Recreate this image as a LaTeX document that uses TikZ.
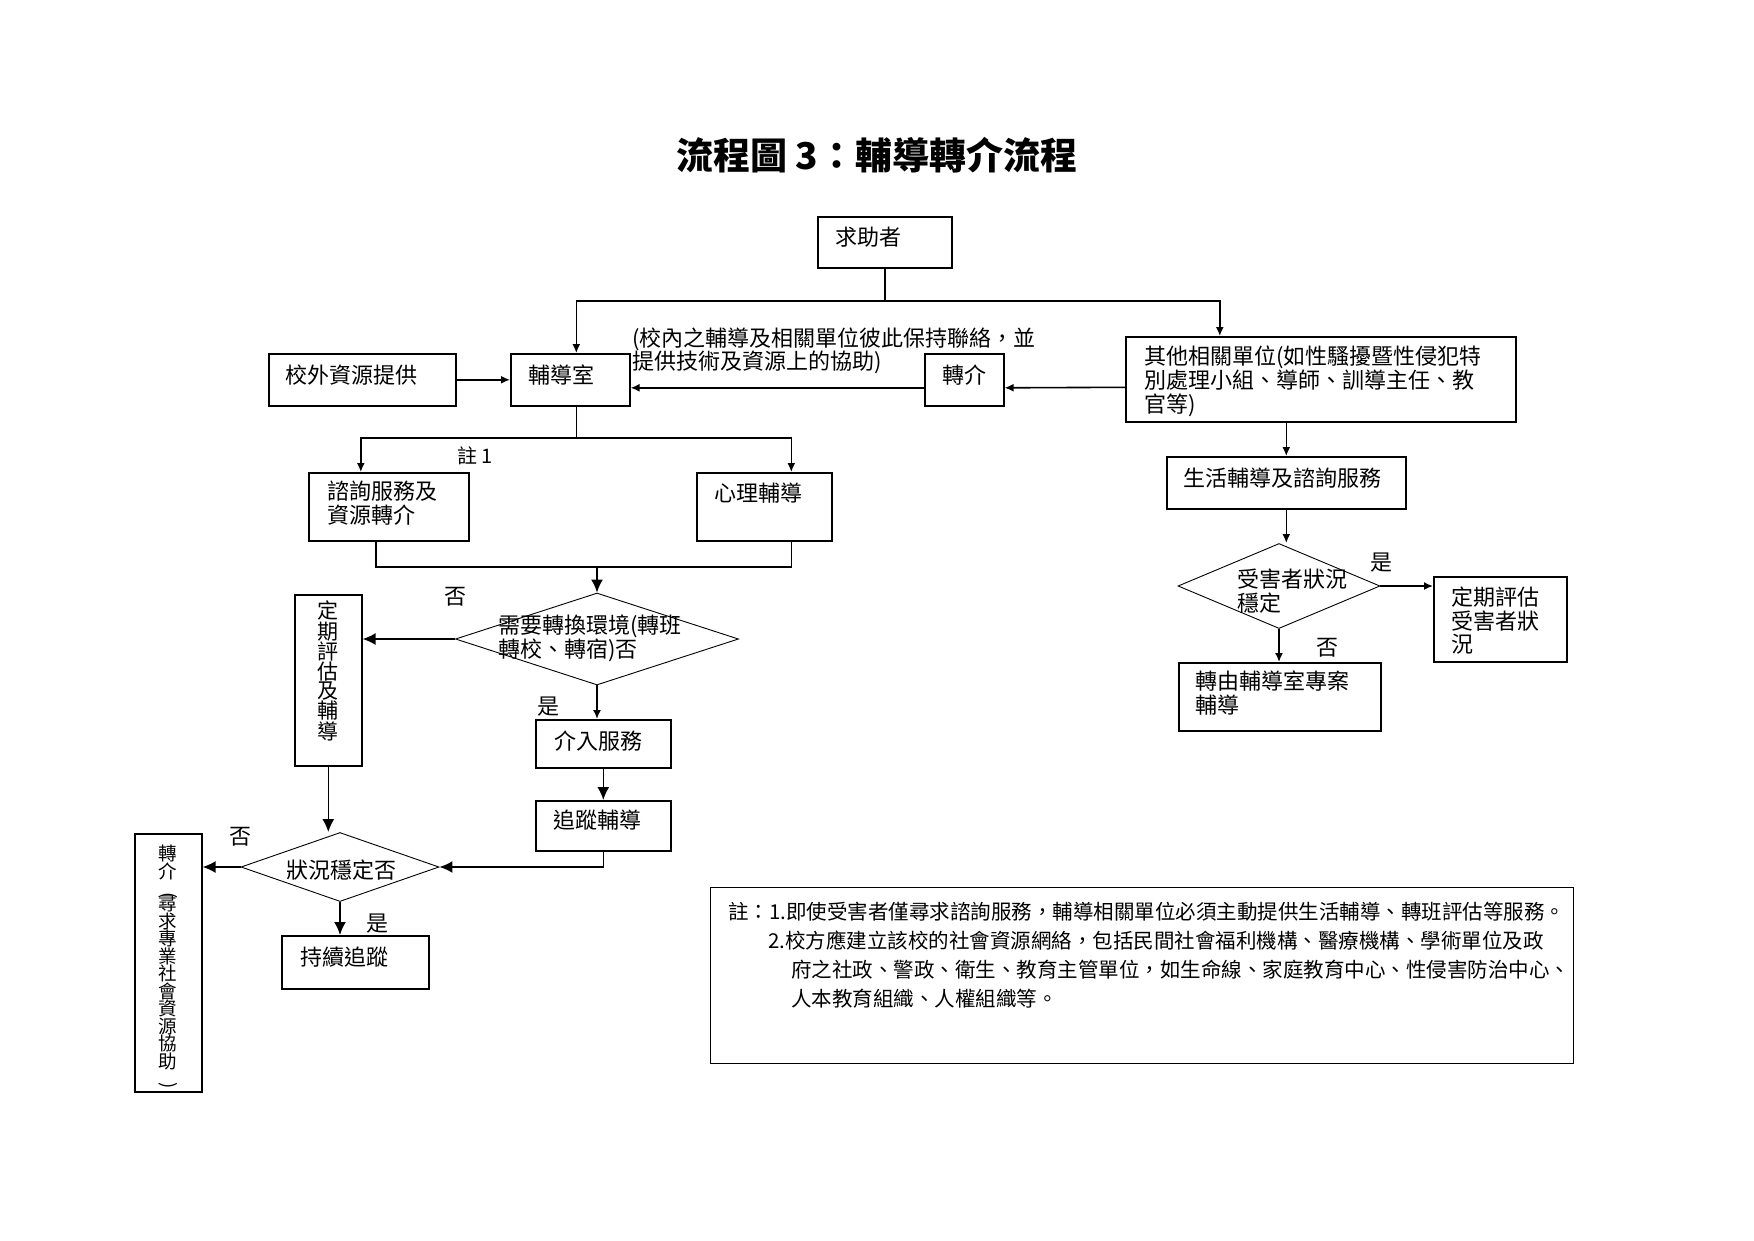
\documentclass[tikz,border=0pt]{standalone}
\usepackage{fontspec}
\usepackage{graphicx}
\setmainfont{Noto Sans CJK TC}
\usetikzlibrary{shapes.geometric,arrows.meta,calc}
\newcommand{\vlparen}{\rotatebox{-90}{(}}
\newcommand{\vrparen}{\rotatebox{-90}{)}}
\begin{document}
\begin{tikzpicture}[x=1pt,y=-1pt,
  box/.style={draw, line width=1.6pt, rectangle, inner sep=0pt, anchor=north west},
  dia/.style={draw, line width=0.9pt, diamond, inner sep=0pt},
  tx/.style={inner sep=0pt, anchor=north west, align=left, font=\fontsize{22}{24}\selectfont},
  vt/.style={inner sep=0pt, anchor=north, align=center, font=\fontsize{21}{18.5}\selectfont},
  lbl/.style={inner sep=0pt, font=\fontsize{22}{24}\selectfont},
  nt/.style={inner sep=0pt, anchor=west, font=\fontsize{20.5}{24}\selectfont},
  ln/.style={line width=1.6pt},
  arr/.style={ln, -{Latex[length=9pt,width=8pt]}},
  arrb/.style={ln, -{Latex[length=13pt,width=12pt]}},
]
\useasboundingbox (0,0) rectangle (1754,1240);

% title
\node[inner sep=0pt, font=\fontsize{37}{40}\selectfont\bfseries] (title) at (877,155) {流程圖 3：輔導轉介流程};

% boxes
\node[box, minimum width=134pt, minimum height=51pt] (seek) at (817,216) {};
\node[box, minimum width=187pt, minimum height=52pt] (outside) at (268,353) {};
\node[box, minimum width=119pt, minimum height=52pt] (office) at (510,353) {};
\node[box, minimum width=79pt, minimum height=52pt] (refer) at (924,353) {};
\node[box, minimum width=390pt, minimum height=85pt] (other) at (1125,336) {};
\node[box, minimum width=239pt, minimum height=52pt] (life) at (1166,456) {};
\node[box, minimum width=160pt, minimum height=68pt] (consult) at (308,472) {};
\node[box, minimum width=135pt, minimum height=68pt] (psych) at (696,472) {};
\node[box, minimum width=67pt, minimum height=171pt] (periodic) at (294,594) {};
\node[box, minimum width=135pt, minimum height=48pt] (service) at (535,719) {};
\node[box, minimum width=135pt, minimum height=50pt] (track) at (535,800) {};
\node[box, minimum width=147pt, minimum height=53pt] (continue) at (281,935) {};
\node[box, minimum width=67pt, minimum height=258pt] (refertwo) at (134,833) {};
\node[box, minimum width=133pt, minimum height=85pt] (victim) at (1433,576) {};
\node[box, minimum width=202pt, minimum height=68pt] (transfer) at (1178,662) {};
\node[box, line width=1.4pt, minimum width=863pt, minimum height=176pt] (note) at (710,887) {};

% diamonds
\node[dia, minimum width=283pt, minimum height=92pt] (done) at (597,639) {};
\node[dia, minimum width=198pt, minimum height=69pt] (dtwo) at (340,867) {};
\node[dia, minimum width=202pt, minimum height=85pt] (dthree) at (1279,586) {};

% texts
\node[tx] (tseek) at (835,227) {求助者};
\node[tx] (toutside) at (285,365) {校外資源提供};
\node[tx] (toffice) at (528,365) {輔導室};
\node[tx] (trefer) at (942,365) {轉介};
\node[tx, font=\fontsize{22}{23}\selectfont] (tannot) at (632,328) {(校內之輔導及相關單位彼此保持聯絡，並\\提供技術及資源上的協助)};
\node[tx] (tother) at (1144,346) {其他相關單位(如性騷擾暨性侵犯特\\別處理小組、導師、訓導主任、教\\官等)};
\node[tx] (tlife) at (1183,468) {生活輔導及諮詢服務};
\node[tx] (tconsult) at (327,481) {諮詢服務及\\資源轉介};
\node[tx] (tpsych) at (714,483) {心理輔導};
\node[tx] (tdone) at (498,615) {需要轉換環境(轉班\\轉校、轉宿)否};
\node[tx] (tservice) at (554,731) {介入服務};
\node[tx] (ttrack) at (553,810) {追蹤輔導};
\node[tx] (tcontinue) at (300,947) {持續追蹤};
\node[lbl] (tdtwo) at (341,870) {狀況穩定否};
\node[tx] (tdthree) at (1237,569) {受害者狀況\\穩定};
\node[tx, font=\fontsize{22}{23.5}\selectfont] (tvictim) at (1451,587) {定期評估\\受害者狀\\況};
\node[tx] (ttransfer) at (1195,671) {轉由輔導室專案\\輔導};
\node[vt] (tperiodic) at (328,601) {定\\期\\評\\估\\及\\輔\\導};
\node[vt, font=\fontsize{18.5}{17.5}\selectfont] (trefertwo) at (168,845) {轉\\介\\[-3.5pt]\vlparen\\[-3.5pt]尋\\求\\專\\業\\社\\會\\資\\源\\協\\助\\[-3.5pt]\vrparen};

% labels
\node[lbl] (lno1) at (455,597) {否};
\node[lbl] (lyes1) at (548,707) {是};
\node[lbl] (lno2) at (240,837) {否};
\node[lbl] (lyes2) at (377,924) {是};
\node[lbl] (lyes3) at (1381,563) {是};
\node[lbl] (lno3) at (1327,648) {否};
\node[lbl, font=\fontsize{20}{24}\selectfont] (lnote) at (475,456) {註 1};

% note text
\node[nt] (nl1) at (728,912) {註：1.即使受害者僅尋求諮詢服務，輔導相關單位必須主動提供生活輔導、轉班評估等服務。};
\node[nt] (nl2) at (768,941) {2.校方應建立該校的社會資源網絡，包括民間社會福利機構、醫療機構、學術單位及政};
\node[nt] (nl3) at (791,970) {府之社政、警政、衛生、教育主管單位，如生命線、家庭教育中心、性侵害防治中心、};
\node[nt] (nl4) at (791,999) {人本教育組織、人權組織等。};

% connectors
\coordinate (jone) at (seek.south |- 0,301);
\draw[ln] (seek.south) -- (jone);
\draw[arr] (jone) -| ([xshift=6pt]office.north);
\draw[arr] (jone) -| ([xshift=-101pt]other.north);
\draw[arr] (outside) -- (office);
\draw[arr] ([yshift=-8pt]refer.west) -- ([yshift=-8pt]office.east);
\draw[arr] ([yshift=-8pt]other.west) -- ([yshift=-8pt]refer.east);
\draw[arr] (life.north |- other.south) -- (life.north);

\coordinate (jtwo) at ([xshift=6pt]office.south |- 0,438);
\draw[ln] ([xshift=6pt]office.south) -- (jtwo);
\draw[arr] (jtwo) -| ([xshift=-28pt]consult.north);
\draw[arr] (jtwo) -| ([xshift=27pt]psych.north);
\coordinate (jthree) at (done.north |- 0,567);
\draw[ln] ([xshift=-13pt]consult.south) |- (jthree);
\draw[ln] ([xshift=27pt]psych.south) |- (jthree);
\draw[arrb] (jthree) -- (done.north);
\draw[arrb] (done.west) -- (done.west -| periodic.east);
\draw[arr] (done.south) -- (done.south |- service.north);
\draw[arrb] (service) -- (track);
\draw[arrb] (track.south) |- (dtwo.east);
\draw[arrb] (periodic.south) -- (periodic.south |- dtwo.north);
\draw[arrb] (dtwo.west) -- (dtwo.west -| refertwo.east);
\draw[arrb] (dtwo.south) -- (dtwo.south |- continue.north);

\draw[arr] (life.south) -- (life.south |- dthree.north);
\draw[arr] (dthree.east) -- (dthree.east -| victim.west);
\draw[arr] (dthree.south) -- (dthree.south |- transfer.north);
\end{tikzpicture}
\end{document}
